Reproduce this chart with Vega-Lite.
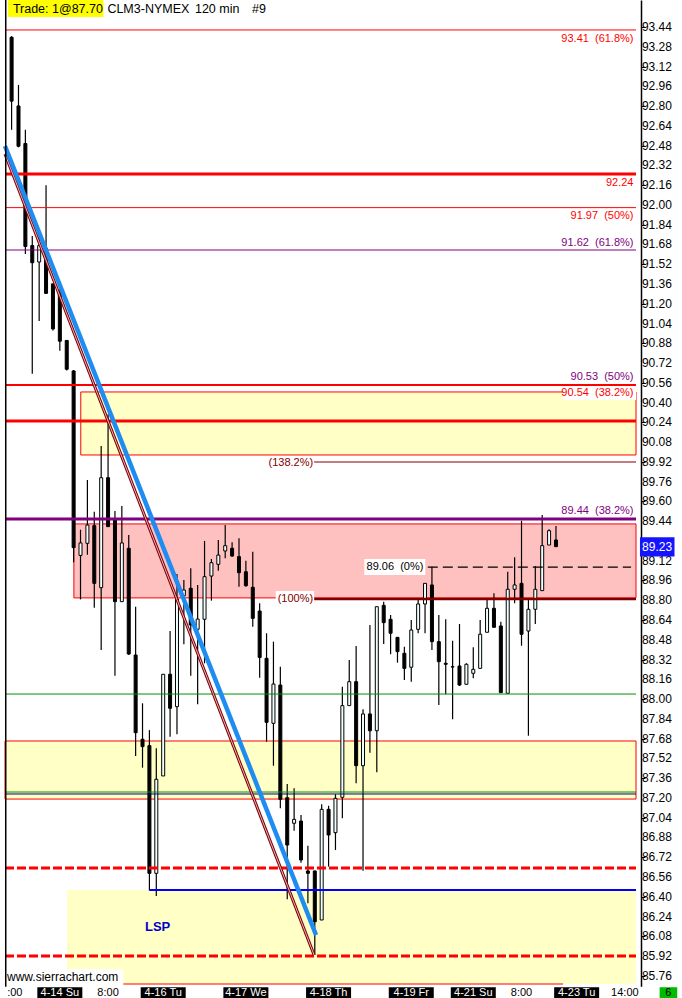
{
  "$schema": "https://vega.github.io/schema/vega-lite/v6.json",
  "width": 641,
  "height": 998,
  "autosize": {"type": "none"},
  "padding": {"left": 0, "top": 0, "right": 41, "bottom": 0},
  "background": "white",
  "view": {"stroke": null},
  "config": {
    "font": "Liberation Sans",
    "legend": {"disable": true},
    "text": {"font": "Liberation Sans"}
  },
  "resolve": {"scale": {"color": "independent", "fill": "independent", "stroke": "independent"}},
  "datasets": {
    "candles": [
      {"i": 0, "o": 93.357, "h": 93.366, "l": 92.608, "c": 92.840},
      {"i": 1, "o": 92.801, "h": 92.971, "l": 92.466, "c": 92.475},
      {"i": 2, "o": 92.497, "h": 92.608, "l": 91.603, "c": 91.664},
      {"i": 3, "o": 91.671, "h": 91.748, "l": 90.634, "c": 91.532},
      {"i": 4, "o": 91.538, "h": 91.748, "l": 91.060, "c": 91.671},
      {"i": 5, "o": 91.649, "h": 92.160, "l": 91.280, "c": 91.284},
      {"i": 6, "o": 91.361, "h": 91.361, "l": 90.984, "c": 90.996},
      {"i": 7, "o": 91.299, "h": 91.330, "l": 90.819, "c": 90.897},
      {"i": 8, "o": 90.903, "h": 90.903, "l": 90.660, "c": 90.670},
      {"i": 9, "o": 90.656, "h": 90.664, "l": 89.108, "c": 89.226},
      {"i": 10, "o": 89.163, "h": 89.371, "l": 88.807, "c": 89.264},
      {"i": 11, "o": 89.261, "h": 89.774, "l": 89.169, "c": 89.409},
      {"i": 12, "o": 89.404, "h": 89.517, "l": 88.740, "c": 88.937},
      {"i": 13, "o": 88.902, "h": 90.049, "l": 88.398, "c": 89.792},
      {"i": 14, "o": 89.792, "h": 90.305, "l": 89.396, "c": 89.396},
      {"i": 15, "o": 89.450, "h": 89.523, "l": 88.190, "c": 88.789},
      {"i": 16, "o": 88.789, "h": 89.563, "l": 88.789, "c": 89.264},
      {"i": 17, "o": 89.221, "h": 89.328, "l": 88.357, "c": 88.365},
      {"i": 18, "o": 88.357, "h": 88.748, "l": 87.540, "c": 87.728},
      {"i": 19, "o": 87.675, "h": 87.966, "l": 87.445, "c": 87.615},
      {"i": 20, "o": 87.623, "h": 87.749, "l": 86.449, "c": 86.590},
      {"i": 21, "o": 86.590, "h": 87.602, "l": 86.406, "c": 87.351},
      {"i": 22, "o": 87.378, "h": 88.201, "l": 87.378, "c": 88.201},
      {"i": 23, "o": 88.201, "h": 88.551, "l": 87.696, "c": 87.926},
      {"i": 24, "o": 87.939, "h": 89.013, "l": 87.715, "c": 88.810},
      {"i": 25, "o": 88.837, "h": 88.964, "l": 88.444, "c": 88.883},
      {"i": 26, "o": 88.897, "h": 89.059, "l": 88.190, "c": 88.600},
      {"i": 27, "o": 88.565, "h": 88.924, "l": 87.958, "c": 88.648},
      {"i": 28, "o": 88.646, "h": 89.280, "l": 88.290, "c": 88.991},
      {"i": 29, "o": 88.996, "h": 89.134, "l": 88.797, "c": 89.104},
      {"i": 30, "o": 89.091, "h": 89.288, "l": 89.039, "c": 89.166},
      {"i": 31, "o": 89.199, "h": 89.409, "l": 89.140, "c": 89.242},
      {"i": 32, "o": 89.221, "h": 89.269, "l": 89.153, "c": 89.158},
      {"i": 33, "o": 89.153, "h": 89.302, "l": 88.910, "c": 89.023},
      {"i": 34, "o": 89.031, "h": 89.120, "l": 88.910, "c": 88.918},
      {"i": 35, "o": 88.905, "h": 89.193, "l": 88.586, "c": 88.654},
      {"i": 36, "o": 88.713, "h": 88.775, "l": 88.173, "c": 88.337},
      {"i": 37, "o": 88.330, "h": 88.533, "l": 87.655, "c": 87.812},
      {"i": 38, "o": 87.804, "h": 88.465, "l": 87.461, "c": 88.122},
      {"i": 39, "o": 88.114, "h": 88.262, "l": 87.116, "c": 87.189},
      {"i": 40, "o": 87.202, "h": 87.313, "l": 86.380, "c": 86.819},
      {"i": 41, "o": 86.995, "h": 87.278, "l": 86.935, "c": 87.027},
      {"i": 42, "o": 87.013, "h": 87.062, "l": 86.676, "c": 86.698},
      {"i": 43, "o": 86.609, "h": 86.814, "l": 86.347, "c": 86.590},
      {"i": 44, "o": 86.609, "h": 86.612, "l": 85.929, "c": 86.198},
      {"i": 45, "o": 86.212, "h": 87.149, "l": 86.212, "c": 87.108},
      {"i": 46, "o": 87.108, "h": 87.137, "l": 86.644, "c": 86.900},
      {"i": 47, "o": 86.919, "h": 87.230, "l": 86.779, "c": 87.197},
      {"i": 48, "o": 87.205, "h": 88.101, "l": 87.035, "c": 87.947},
      {"i": 49, "o": 87.947, "h": 88.317, "l": 87.947, "c": 88.141},
      {"i": 50, "o": 88.141, "h": 88.430, "l": 87.319, "c": 87.461},
      {"i": 51, "o": 87.461, "h": 87.918, "l": 86.611, "c": 87.880},
      {"i": 52, "o": 87.880, "h": 88.600, "l": 87.566, "c": 87.744},
      {"i": 53, "o": 87.744, "h": 88.748, "l": 87.408, "c": 88.748},
      {"i": 54, "o": 88.759, "h": 88.789, "l": 88.446, "c": 88.619},
      {"i": 55, "o": 88.646, "h": 88.681, "l": 88.363, "c": 88.533},
      {"i": 56, "o": 88.500, "h": 88.500, "l": 88.295, "c": 88.384},
      {"i": 57, "o": 88.371, "h": 88.424, "l": 88.155, "c": 88.249},
      {"i": 58, "o": 88.258, "h": 88.640, "l": 88.141, "c": 88.559},
      {"i": 59, "o": 88.565, "h": 88.802, "l": 88.533, "c": 88.770},
      {"i": 60, "o": 88.770, "h": 88.937, "l": 88.533, "c": 88.937},
      {"i": 61, "o": 88.924, "h": 89.072, "l": 88.398, "c": 88.465},
      {"i": 62, "o": 88.465, "h": 88.681, "l": 87.952, "c": 88.303},
      {"i": 63, "o": 88.290, "h": 88.646, "l": 88.039, "c": 88.282},
      {"i": 64, "o": 88.262, "h": 88.473, "l": 87.836, "c": 88.260},
      {"i": 65, "o": 88.268, "h": 88.608, "l": 88.106, "c": 88.114},
      {"i": 66, "o": 88.120, "h": 88.290, "l": 88.120, "c": 88.282},
      {"i": 67, "o": 88.209, "h": 88.419, "l": 88.169, "c": 88.241},
      {"i": 68, "o": 88.249, "h": 88.640, "l": 88.249, "c": 88.525},
      {"i": 69, "o": 88.541, "h": 88.802, "l": 88.541, "c": 88.735},
      {"i": 70, "o": 88.735, "h": 88.856, "l": 88.581, "c": 88.581},
      {"i": 71, "o": 88.592, "h": 88.627, "l": 88.052, "c": 88.052},
      {"i": 72, "o": 88.047, "h": 89.031, "l": 88.047, "c": 88.889},
      {"i": 73, "o": 88.889, "h": 89.148, "l": 88.775, "c": 88.924},
      {"i": 74, "o": 88.937, "h": 89.444, "l": 88.432, "c": 88.525},
      {"i": 75, "o": 88.551, "h": 88.802, "l": 87.704, "c": 88.727},
      {"i": 76, "o": 88.727, "h": 89.077, "l": 88.608, "c": 88.889},
      {"i": 77, "o": 88.878, "h": 89.490, "l": 88.878, "c": 89.242},
      {"i": 78, "o": 89.247, "h": 89.374, "l": 89.247, "c": 89.363},
      {"i": 79, "o": 89.288, "h": 89.401, "l": 89.234, "c": 89.234}
    ],
    "priceLabels": [
      {"p": 85.76}, {"p": 85.92}, {"p": 86.08}, {"p": 86.24}, {"p": 86.40}, {"p": 86.56}, {"p": 86.72}, {"p": 86.88},
      {"p": 87.04}, {"p": 87.20}, {"p": 87.36}, {"p": 87.52}, {"p": 87.68}, {"p": 87.84}, {"p": 88.00}, {"p": 88.16},
      {"p": 88.32}, {"p": 88.48}, {"p": 88.64}, {"p": 88.80}, {"p": 88.96}, {"p": 89.12}, {"p": 89.44},
      {"p": 89.60}, {"p": 89.76}, {"p": 89.92}, {"p": 90.08}, {"p": 90.24}, {"p": 90.40}, {"p": 90.56}, {"p": 90.72},
      {"p": 90.88}, {"p": 91.04}, {"p": 91.20}, {"p": 91.36}, {"p": 91.52}, {"p": 91.68}, {"p": 91.84}, {"p": 92.00},
      {"p": 92.16}, {"p": 92.32}, {"p": 92.48}, {"p": 92.64}, {"p": 92.80}, {"p": 92.96}, {"p": 93.12}, {"p": 93.28},
      {"p": 93.44}
    ],
    "zones": [
      {"x": 10.04, "x2": 90.614, "y": 90.486, "y2": 89.976, "kind": "supply"},
      {"x": 9.04, "x2": 90.614, "y": 89.418, "y2": 88.819, "kind": "demand"},
      {"x": -0.957, "x2": 90.614, "y": 87.661, "y2": 87.191, "kind": "supply"},
      {"x": 8.04, "x2": 90.614, "y": 86.455, "y2": 85.694, "kind": "lsp"}
    ],
    "levels": [
      {"y": 93.416, "x": -0.957, "x2": 90.614, "kind": "levelThin"},
      {"y": 92.250, "x": -0.957, "x2": 90.614, "kind": "levelThick"},
      {"y": 91.978, "x": -0.957, "x2": 90.614, "kind": "levelThin"},
      {"y": 91.635, "x": -0.957, "x2": 90.614, "kind": "fibThin"},
      {"y": 90.542, "x": -0.957, "x2": 90.614, "kind": "levelMid"},
      {"y": 90.251, "x": -0.957, "x2": 90.614, "kind": "levelThick"},
      {"y": 89.919, "x": 43.9, "x2": 90.614, "kind": "extension"},
      {"y": 89.458, "x": -0.957, "x2": 90.614, "kind": "fibThick"},
      {"y": 89.069, "x": 60.4, "x2": 89.9, "kind": "zero"},
      {"y": 88.810, "x": 43.9, "x2": 90.614, "kind": "base"},
      {"y": 88.041, "x": -0.957, "x2": 90.614, "kind": "swing"},
      {"y": 87.248, "x": -0.957, "x2": 90.614, "kind": "swing"},
      {"y": 87.232, "x": -0.957, "x2": 90.614, "kind": "pivotLow"},
      {"y": 86.633, "x": -0.957, "x2": 90.614, "kind": "stop"},
      {"y": 86.455, "x": 20.04, "x2": 90.614, "kind": "lsp"},
      {"y": 85.921, "x": -0.957, "x2": 90.614, "kind": "stop"},
      {"y": 85.694, "x": 16.19, "x2": 80.04, "kind": "levelThin"}
    ],
    "trend": [
      {"line": "maroon", "x": -0.957, "y": 92.412},
      {"line": "maroon", "x": 43.9, "y": 85.929},
      {"line": "blue", "x": -0.957, "y": 92.477},
      {"line": "blue", "x": 44.18, "y": 86.091}
    ],
    "labelBg": [
      {"x": 80.04, "x2": 90.614, "y": 90.534, "y2": 90.421},
      {"x": 38.33, "x2": 43.9, "y": 88.875, "y2": 88.745},
      {"x": 51.19, "x2": 60.04, "y": 89.134, "y2": 89.004},
      {"x": -0.957, "x2": 16.19, "y": 85.816, "y2": 85.674}
    ],
    "notes": [
      {"x": 90.25, "y": 93.345, "t": "93.41\u00a0\u00a0(61.8%)", "kind": "levelThin"},
      {"x": 90.25, "y": 92.180, "t": "92.24", "kind": "levelThick"},
      {"x": 90.25, "y": 91.910, "t": "91.97\u00a0\u00a0(50%)", "kind": "levelThin"},
      {"x": 90.25, "y": 91.694, "t": "91.62\u00a0\u00a0(61.8%)", "kind": "fibThin"},
      {"x": 90.25, "y": 90.610, "t": "90.53\u00a0\u00a0(50%)", "kind": "fibThin"},
      {"x": 90.25, "y": 90.480, "t": "90.54\u00a0\u00a0(38.2%)", "kind": "levelThin"},
      {"x": 90.25, "y": 89.523, "t": "89.44\u00a0\u00a0(38.2%)", "kind": "fibThick"},
      {"x": 43.76, "y": 89.914, "t": "(138.2%)", "kind": "extension"},
      {"x": 43.76, "y": 88.808, "t": "(100%)", "kind": "base"},
      {"x": 59.76, "y": 89.072, "t": "89.06\u00a0\u00a0(0%)", "kind": "zero"}
    ],
    "timeAxis": [
      {"x": 0.47, "label": ":00", "kind": "time"},
      {"x": 7, "label": "4-14 Su", "kind": "date"},
      {"x": 14, "label": "8:00", "kind": "time"},
      {"x": 22, "label": "4-16 Tu", "kind": "date"},
      {"x": 34, "label": "4-17 We", "kind": "date"},
      {"x": 46, "label": "4-18 Th", "kind": "date"},
      {"x": 58, "label": "4-19 Fr", "kind": "date"},
      {"x": 67, "label": "4-21 Su", "kind": "date"},
      {"x": 74, "label": "8:00", "kind": "time"},
      {"x": 82, "label": "4-23 Tu", "kind": "date"},
      {"x": 89, "label": "14:00", "kind": "time"}
    ],
    "header": [
      {"x": 0.186, "t": "Trade: 1@87.70"},
      {"x": 13.9, "t": "CLM3-NYMEX"},
      {"x": 26.61, "t": "120 min"},
      {"x": 34.9, "t": "#9"}
    ]
  },
  "layer": [
    {
      "data": {"name": "zones"},
      "mark": {"type": "rect", "strokeWidth": 1},
      "encoding": {
        "x": {"field": "x", "type": "quantitative", "scale": {"domain": [-0.957, 90.614], "nice": false, "zero": false}, "axis": null},
        "x2": {"field": "x2"},
        "y": {"field": "y", "type": "quantitative", "scale": {"domain": [85.5808, 93.6585], "nice": false, "zero": false},
          "axis": {"orient": "right", "title": null, "grid": false, "zindex": 0, "labels": false,
            "values": [85.76, 85.92, 86.08, 86.24, 86.4, 86.56, 86.72, 86.88, 87.04, 87.2, 87.36, 87.52, 87.68, 87.84, 88.0, 88.16, 88.32, 88.48, 88.64, 88.8, 88.96, 89.12, 89.28, 89.44, 89.6, 89.76, 89.92, 90.08, 90.24, 90.4, 90.56, 90.72, 90.88, 91.04, 91.2, 91.36, 91.52, 91.68, 91.84, 92.0, 92.16, 92.32, 92.48, 92.64, 92.8, 92.96, 93.12, 93.28, 93.44],
            "tickSize": 4, "tickColor": "#000000", "domainColor": "#000000", "domainWidth": 1.5}},
        "y2": {"field": "y2"},
        "fill": {"field": "kind", "type": "nominal", "scale": {"domain": ["supply", "demand", "lsp"], "range": ["#ffffc6", "#ffc0c0", "#ffffc6"]}},
        "stroke": {"field": "kind", "type": "nominal", "scale": {"domain": ["supply", "demand", "lsp"], "range": ["#ff0000", "#ff0000", "transparent"]}}
      }
    },
    {
      "data": {"name": "candles"},
      "mark": {"type": "rule", "color": "#000000", "strokeWidth": 1.2},
      "encoding": {
        "x": {"field": "i", "type": "quantitative", "scale": {"domain": [-0.957, 90.614], "nice": false, "zero": false}, "axis": null},
        "y": {"field": "l", "type": "quantitative", "scale": {"domain": [85.5808, 93.6585], "nice": false, "zero": false}},
        "y2": {"field": "h"}
      }
    },
    {
      "data": {"name": "candles"},
      "mark": {"type": "bar", "orient": "vertical", "size": 3, "stroke": "#000000", "strokeWidth": 1},
      "encoding": {
        "x": {"field": "i", "type": "quantitative", "scale": {"domain": [-0.957, 90.614], "nice": false, "zero": false}, "axis": null},
        "y": {"field": "o", "type": "quantitative", "scale": {"domain": [85.5808, 93.6585], "nice": false, "zero": false}},
        "y2": {"field": "c"},
        "fill": {"condition": {"test": "datum.c > datum.o", "value": "#f0ffff"}, "value": "#000000"}
      }
    },
    {
      "data": {"name": "levels"},
      "transform": [{"filter": {"field": "kind", "oneOf": ["levelThin", "fibThin", "extension", "swing", "pivotLow"]}}],
      "mark": {"type": "rule", "strokeWidth": 1},
      "encoding": {
        "x": {"field": "x", "type": "quantitative", "scale": {"domain": [-0.957, 90.614], "nice": false, "zero": false}, "axis": null},
        "x2": {"field": "x2"},
        "y": {"field": "y", "type": "quantitative", "scale": {"domain": [85.5808, 93.6585], "nice": false, "zero": false}},
        "color": {"field": "kind", "type": "nominal", "scale": {"domain": ["levelThin", "fibThin", "extension", "swing", "pivotLow"], "range": ["#ff0000", "#800080", "#800000", "#009000", "#000080"]}}
      }
    },
    {
      "data": {"name": "levels"},
      "transform": [{"filter": {"field": "kind", "oneOf": ["levelMid", "lsp"]}}],
      "mark": {"type": "rule", "strokeWidth": 2},
      "encoding": {
        "x": {"field": "x", "type": "quantitative", "scale": {"domain": [-0.957, 90.614], "nice": false, "zero": false}, "axis": null},
        "x2": {"field": "x2"},
        "y": {"field": "y", "type": "quantitative", "scale": {"domain": [85.5808, 93.6585], "nice": false, "zero": false}},
        "color": {"field": "kind", "type": "nominal", "scale": {"domain": ["levelMid", "lsp"], "range": ["#ff0000", "#0000ff"]}}
      }
    },
    {
      "data": {"name": "levels"},
      "transform": [{"filter": {"field": "kind", "oneOf": ["base"]}}],
      "mark": {"type": "rule", "strokeWidth": 2.5, "color": "#800000"},
      "encoding": {
        "x": {"field": "x", "type": "quantitative", "scale": {"domain": [-0.957, 90.614], "nice": false, "zero": false}, "axis": null},
        "x2": {"field": "x2"},
        "y": {"field": "y", "type": "quantitative", "scale": {"domain": [85.5808, 93.6585], "nice": false, "zero": false}}
      }
    },
    {
      "data": {"name": "levels"},
      "transform": [{"filter": {"field": "kind", "oneOf": ["levelThick", "fibThick"]}}],
      "mark": {"type": "rule", "strokeWidth": 3},
      "encoding": {
        "x": {"field": "x", "type": "quantitative", "scale": {"domain": [-0.957, 90.614], "nice": false, "zero": false}, "axis": null},
        "x2": {"field": "x2"},
        "y": {"field": "y", "type": "quantitative", "scale": {"domain": [85.5808, 93.6585], "nice": false, "zero": false}},
        "color": {"field": "kind", "type": "nominal", "scale": {"domain": ["levelThick", "fibThick"], "range": ["#ff0000", "#800080"]}}
      }
    },
    {
      "data": {"name": "levels"},
      "transform": [{"filter": {"field": "kind", "equal": "stop"}}],
      "mark": {"type": "rule", "strokeWidth": 3, "color": "#ff0000", "strokeDash": [9, 3]},
      "encoding": {
        "x": {"field": "x", "type": "quantitative", "scale": {"domain": [-0.957, 90.614], "nice": false, "zero": false}, "axis": null},
        "x2": {"field": "x2"},
        "y": {"field": "y", "type": "quantitative", "scale": {"domain": [85.5808, 93.6585], "nice": false, "zero": false}}
      }
    },
    {
      "data": {"name": "levels"},
      "transform": [{"filter": {"field": "kind", "equal": "zero"}}],
      "mark": {"type": "rule", "strokeWidth": 1.3, "color": "#000000", "strokeDash": [10, 5]},
      "encoding": {
        "x": {"field": "x", "type": "quantitative", "scale": {"domain": [-0.957, 90.614], "nice": false, "zero": false}, "axis": null},
        "x2": {"field": "x2"},
        "y": {"field": "y", "type": "quantitative", "scale": {"domain": [85.5808, 93.6585], "nice": false, "zero": false}}
      }
    },
    {
      "data": {"name": "trend"},
      "transform": [{"filter": {"field": "line", "equal": "maroon"}}],
      "mark": {"type": "line", "strokeWidth": 3, "color": "#800000"},
      "encoding": {
        "x": {"field": "x", "type": "quantitative", "scale": {"domain": [-0.957, 90.614], "nice": false, "zero": false}, "axis": null},
        "y": {"field": "y", "type": "quantitative", "scale": {"domain": [85.5808, 93.6585], "nice": false, "zero": false}}
      }
    },
    {
      "data": {"name": "trend"},
      "transform": [{"filter": {"field": "line", "equal": "maroon"}}],
      "mark": {"type": "line", "strokeWidth": 1, "color": "#e8b0c0"},
      "encoding": {
        "x": {"field": "x", "type": "quantitative", "scale": {"domain": [-0.957, 90.614], "nice": false, "zero": false}, "axis": null},
        "y": {"field": "y", "type": "quantitative", "scale": {"domain": [85.5808, 93.6585], "nice": false, "zero": false}}
      }
    },
    {
      "data": {"name": "trend"},
      "transform": [{"filter": {"field": "line", "equal": "blue"}}],
      "mark": {"type": "line", "strokeWidth": 4.5, "color": "#1e8cf0"},
      "encoding": {
        "x": {"field": "x", "type": "quantitative", "scale": {"domain": [-0.957, 90.614], "nice": false, "zero": false}, "axis": null},
        "y": {"field": "y", "type": "quantitative", "scale": {"domain": [85.5808, 93.6585], "nice": false, "zero": false}}
      }
    },
    {
      "data": {"name": "labelBg"},
      "mark": {"type": "rect", "fill": "#ffffff"},
      "encoding": {
        "x": {"field": "x", "type": "quantitative", "scale": {"domain": [-0.957, 90.614], "nice": false, "zero": false}, "axis": null},
        "x2": {"field": "x2"},
        "y": {"field": "y", "type": "quantitative", "scale": {"domain": [85.5808, 93.6585], "nice": false, "zero": false}},
        "y2": {"field": "y2"}
      }
    },
    {
      "data": {"name": "notes"},
      "mark": {"type": "text", "align": "right", "baseline": "middle", "fontSize": 11, "font": "Liberation Sans"},
      "encoding": {
        "x": {"field": "x", "type": "quantitative", "scale": {"domain": [-0.957, 90.614], "nice": false, "zero": false}, "axis": null},
        "y": {"field": "y", "type": "quantitative", "scale": {"domain": [85.5808, 93.6585], "nice": false, "zero": false}},
        "text": {"field": "t"},
        "color": {"field": "kind", "type": "nominal", "scale": {"domain": ["levelThin", "levelThick", "fibThin", "fibThick", "extension", "base", "zero"], "range": ["#ff0000", "#ff0000", "#800080", "#800080", "#800000", "#800000", "#000000"]}}
      }
    },
    {
      "data": {"values": [{"t": "LSP"}]},
      "mark": {"type": "text", "align": "center", "baseline": "middle", "fontSize": 13, "fontWeight": "bold", "color": "#0000cc", "font": "Liberation Sans"},
      "encoding": {
        "x": {"datum": 21.19, "type": "quantitative", "scale": {"domain": [-0.957, 90.614], "nice": false, "zero": false}, "axis": null},
        "y": {"datum": 86.156, "type": "quantitative", "scale": {"domain": [85.5808, 93.6585], "nice": false, "zero": false}},
        "text": {"field": "t"}
      }
    },
    {
      "data": {"values": [{"t": "www.sierrachart.com"}]},
      "mark": {"type": "text", "align": "left", "baseline": "middle", "fontSize": 12, "color": "#000000", "font": "Liberation Sans"},
      "encoding": {
        "x": {"datum": -0.67, "type": "quantitative", "scale": {"domain": [-0.957, 90.614], "nice": false, "zero": false}, "axis": null},
        "y": {"datum": 85.751, "type": "quantitative", "scale": {"domain": [85.5808, 93.6585], "nice": false, "zero": false}},
        "text": {"field": "t"}
      }
    },
    {
      "data": {"name": "priceLabels"},
      "mark": {"type": "text", "align": "left", "baseline": "middle", "fontSize": 12, "color": "#000000", "font": "Liberation Sans"},
      "encoding": {
        "x": {"datum": 91.47, "type": "quantitative", "scale": {"domain": [-0.957, 90.614], "nice": false, "zero": false}, "axis": null},
        "y": {"field": "p", "type": "quantitative", "scale": {"domain": [85.5808, 93.6585], "nice": false, "zero": false}},
        "text": {"field": "p", "type": "quantitative", "format": ".2f"}
      }
    },
    {
      "data": {"values": [{}]},
      "mark": {"type": "rect", "fill": "#ffffff"},
      "encoding": {
        "x": {"datum": -0.957, "type": "quantitative", "scale": {"domain": [-0.957, 90.614], "nice": false, "zero": false}, "axis": null},
        "x2": {"datum": 96.6},
        "y": {"datum": 85.5808, "type": "quantitative", "scale": {"domain": [85.5808, 93.6585], "nice": false, "zero": false}},
        "y2": {"datum": 85.671}
      }
    },
    {
      "data": {"name": "timeAxis"},
      "transform": [{"filter": {"field": "kind", "equal": "date"}}],
      "mark": {"type": "bar", "orient": "vertical", "size": 45, "color": "#000000"},
      "encoding": {
        "x": {"field": "x", "type": "quantitative", "scale": {"domain": [-0.957, 90.614], "nice": false, "zero": false}, "axis": null},
        "y": {"datum": 85.5808, "type": "quantitative", "scale": {"domain": [85.5808, 93.6585], "nice": false, "zero": false}},
        "y2": {"datum": 85.668}
      }
    },
    {
      "data": {"name": "timeAxis"},
      "mark": {"type": "text", "align": "center", "baseline": "middle", "fontSize": 11, "font": "Liberation Sans"},
      "encoding": {
        "x": {"field": "x", "type": "quantitative", "scale": {"domain": [-0.957, 90.614], "nice": false, "zero": false}, "axis": null},
        "y": {"datum": 85.624, "type": "quantitative", "scale": {"domain": [85.5808, 93.6585], "nice": false, "zero": false}},
        "text": {"field": "label"},
        "color": {"condition": {"test": "datum.kind === 'date'", "value": "#ffffff"}, "value": "#000000"}
      }
    },
    {
      "data": {"values": [{}]},
      "mark": {"type": "rect", "fill": "#00bb00"},
      "encoding": {
        "x": {"datum": 94.04, "type": "quantitative", "scale": {"domain": [-0.957, 90.614], "nice": false, "zero": false}, "axis": null},
        "x2": {"datum": 96.6},
        "y": {"datum": 85.5808, "type": "quantitative", "scale": {"domain": [85.5808, 93.6585], "nice": false, "zero": false}},
        "y2": {"datum": 85.668}
      }
    },
    {
      "data": {"values": [{"t": "6"}]},
      "mark": {"type": "text", "align": "center", "baseline": "middle", "fontSize": 11, "color": "#000000", "font": "Liberation Sans"},
      "encoding": {
        "x": {"datum": 95.3, "type": "quantitative", "scale": {"domain": [-0.957, 90.614], "nice": false, "zero": false}, "axis": null},
        "y": {"datum": 85.624, "type": "quantitative", "scale": {"domain": [85.5808, 93.6585], "nice": false, "zero": false}},
        "text": {"field": "t"}
      }
    },
    {
      "data": {"values": [{}]},
      "mark": {"type": "rect", "fill": "#1414ff"},
      "encoding": {
        "x": {"datum": 91.19, "type": "quantitative", "scale": {"domain": [-0.957, 90.614], "nice": false, "zero": false}, "axis": null},
        "x2": {"datum": 96.2},
        "y": {"datum": 89.155, "type": "quantitative", "scale": {"domain": [85.5808, 93.6585], "nice": false, "zero": false}},
        "y2": {"datum": 89.310}
      }
    },
    {
      "data": {"values": [{"t": "89.23"}]},
      "mark": {"type": "text", "align": "left", "baseline": "middle", "fontSize": 12, "color": "#ffffff", "font": "Liberation Sans"},
      "encoding": {
        "x": {"datum": 91.5, "type": "quantitative", "scale": {"domain": [-0.957, 90.614], "nice": false, "zero": false}, "axis": null},
        "y": {"datum": 89.231, "type": "quantitative", "scale": {"domain": [85.5808, 93.6585], "nice": false, "zero": false}},
        "text": {"field": "t"}
      }
    },
    {
      "data": {"values": [{}]},
      "mark": {"type": "rect", "fill": "#ffff00"},
      "encoding": {
        "x": {"datum": -0.53, "type": "quantitative", "scale": {"domain": [-0.957, 90.614], "nice": false, "zero": false}, "axis": null},
        "x2": {"datum": 13.33},
        "y": {"datum": 93.521, "type": "quantitative", "scale": {"domain": [85.5808, 93.6585], "nice": false, "zero": false}},
        "y2": {"datum": 93.6585}
      }
    },
    {
      "data": {"name": "header"},
      "mark": {"type": "text", "align": "left", "baseline": "middle", "fontSize": 12.5, "color": "#000000", "font": "Liberation Sans"},
      "encoding": {
        "x": {"field": "x", "type": "quantitative", "scale": {"domain": [-0.957, 90.614], "nice": false, "zero": false}, "axis": null},
        "y": {"datum": 93.585, "type": "quantitative", "scale": {"domain": [85.5808, 93.6585], "nice": false, "zero": false}},
        "text": {"field": "t"}
      }
    },
    {
      "data": {"values": [{}]},
      "mark": {"type": "rule", "color": "#000000", "strokeWidth": 1.5},
      "encoding": {
        "x": {"datum": -0.85, "type": "quantitative", "scale": {"domain": [-0.957, 90.614], "nice": false, "zero": false}, "axis": null},
        "y": {"datum": 85.671, "type": "quantitative", "scale": {"domain": [85.5808, 93.6585], "nice": false, "zero": false}},
        "y2": {"datum": 93.6585}
      }
    }
  ]
}
